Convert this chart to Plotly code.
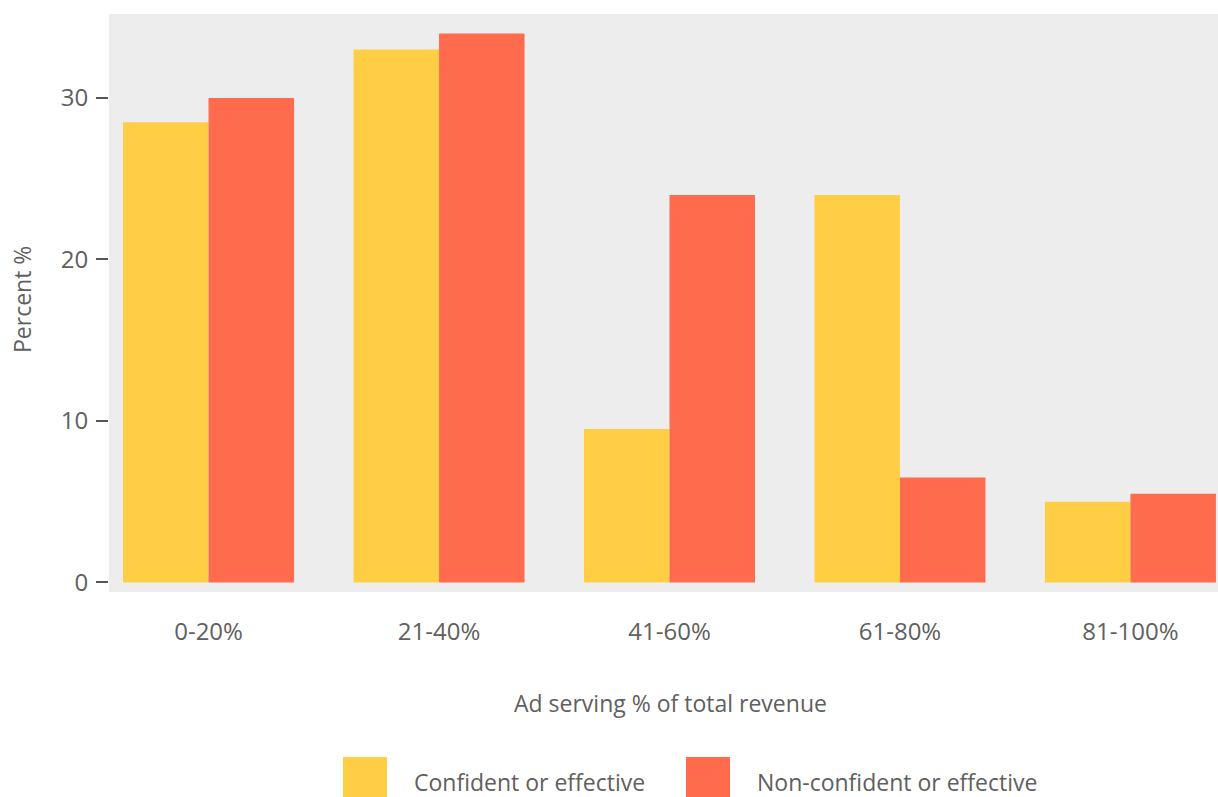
import plotly.graph_objects as go

# Share of revenue coming from ad serving, grouped into bands
categories = ["0-20%", "21-40%", "41-60%", "61-80%", "81-100%"]
confident = [28.5, 33.0, 9.5, 24.0, 5.0]
non_confident = [30.0, 34.0, 24.0, 6.5, 5.5]
series_names = ["Confident or effective", "Non-confident or effective"]
y_ticks = [0, 10, 20, 30]

YELLOW = "#FFCE45"
RED = "#FF6B4D"
TEXT = "#606060"
FONT = "Open Sans"

W, H = 1218, 797
L, R, T, B = 109, 0, 14, 205
PW, PH = W - L - R, H - T - B

fig = go.Figure()
fig.add_trace(go.Bar(x=categories, y=confident, name=series_names[0],
                     marker=dict(color=YELLOW, line=dict(width=0)), showlegend=False))
fig.add_trace(go.Bar(x=categories, y=non_confident, name=series_names[1],
                     marker=dict(color=RED, line=dict(width=0)), showlegend=False))


def px_x(px):
    return (px - L) / PW


def px_y(py):
    return (H - B - py) / PH


# Legend drawn as large swatches below the axis title
legend_items = [(series_names[0], YELLOW, 343, 412), (series_names[1], RED, 686, 755)]
shapes = []
annotations = []
for name, color, sx, tx in legend_items:
    shapes.append(dict(type="rect", xref="paper", yref="paper",
                       x0=px_x(sx), x1=px_x(sx + 44), y0=px_y(757), y1=px_y(800),
                       fillcolor=color, line=dict(width=0), layer="above"))
    annotations.append(dict(text=name, xref="paper", yref="paper",
                            x=px_x(tx), y=px_y(782), xanchor="left", yanchor="middle",
                            showarrow=False, font=dict(family=FONT, size=23, color=TEXT)))

annotations.append(dict(text="Ad serving % of total revenue", xref="paper", yref="paper",
                        x=px_x(670), y=px_y(703), xanchor="center", yanchor="middle",
                        showarrow=False, font=dict(family=FONT, size=23, color=TEXT)))
annotations.append(dict(text="Percent %", xref="paper", yref="paper",
                        x=px_x(22), y=px_y(300), xanchor="center", yanchor="middle",
                        textangle=-90, showarrow=False,
                        font=dict(family=FONT, size=23, color=TEXT)))

fig.update_layout(
    width=W, height=H,
    margin=dict(l=L, r=R, t=T, b=B, pad=0),
    paper_bgcolor="white",
    plot_bgcolor="#EDEDED",
    barmode="group",
    bargap=0.258,
    bargroupgap=0,
    font=dict(family=FONT, size=23, color=TEXT),
    shapes=shapes,
    annotations=annotations,
)
fig.update_xaxes(range=[-0.432, 4.38], showgrid=False, zeroline=False,
                 showline=False, ticks="", ticklabelstandoff=23,
                 tickfont=dict(family=FONT, size=24, color=TEXT))
fig.update_yaxes(range=[-0.59, 35.2], tickvals=y_ticks, showgrid=False, zeroline=False,
                 showline=False, ticks="outside", ticklen=12, tickwidth=1.5,
                 tickcolor="#555555", ticklabelstandoff=3,
                 tickfont=dict(family=FONT, size=24, color=TEXT))

fig.write_html("out.html")
